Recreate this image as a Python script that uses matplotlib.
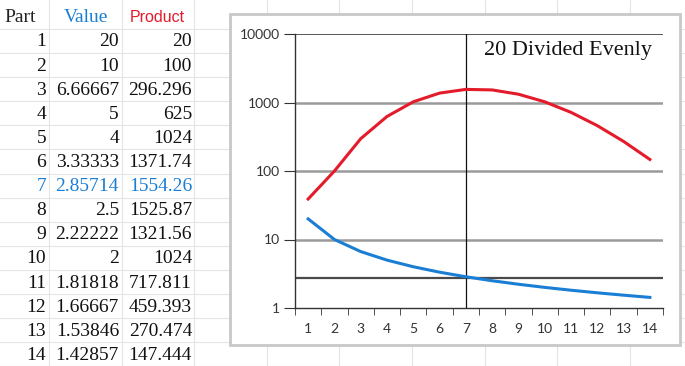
import numpy as np
import matplotlib.pyplot as plt
from matplotlib.patches import Rectangle
from matplotlib.ticker import FixedLocator, NullLocator

# table values (as shown in the spreadsheet)
parts = list(range(1, 15))
value_txt = ["20", "10", "6.66667", "5", "4", "3.33333", "2.85714", "2.5",
             "2.22222", "2", "1.81818", "1.66667", "1.53846", "1.42857"]
product_txt = ["20", "100", "296.296", "625", "1024", "1371.74", "1554.26",
               "1525.87", "1321.56", "1024", "717.811", "459.393", "270.474",
               "147.444"]

# series as drawn in the chart
chart_value = [20, 10, 6.66667, 5, 4, 3.33333, 2.85714, 2.5, 2.22222, 2,
               1.81818, 1.66667, 1.53846, 1.42857]
chart_product = [39, 100, 296.296, 625, 1024, 1371.74, 1554.26, 1525.87,
                 1321.56, 1024, 717.811, 459.393, 270.474, 147.444]
y_ticks = [1, 10, 100, 1000, 10000]
ref_x = 7
ref_y = np.e

RED = "#e31b2b"
BLUE = "#1a7fd4"
W, H = 685, 366

fig = plt.figure(figsize=(W / 100, H / 100), dpi=100)

def fx(px):
    return px / W

def fy(py):
    return 1 - py / H

# spreadsheet grid in the background
for x in [49, 122, 194, 267, 339, 412, 485, 557, 630]:
    fig.add_artist(plt.Line2D([fx(x), fx(x)], [0, 1], color="#e4e4e4", lw=0.8, zorder=0.1))
for i in range(16):
    y = 29 + 24.1 * i
    fig.add_artist(plt.Line2D([0, 1], [fy(y), fy(y)], color="#e4e4e4", lw=0.8, zorder=0.1))

# table text
serif = "Liberation Serif"
fs = 14
fig.text(fx(4), fy(17), "Part", family=serif, fontsize=fs, color="#222222", va="center")
fig.text(fx(64), fy(17), "Value", family=serif, fontsize=fs, color=BLUE, va="center")
fig.text(fx(130), fy(17), "Product", family="Liberation Sans", fontsize=11.5,
         color=RED, va="center")
for i, p in enumerate(parts):
    y = fy(42 + 24.1 * i)
    c = BLUE if p == 7 else "#111111"
    fig.text(fx(46), y, str(p), family=serif, fontsize=fs, color=c, ha="right", va="center")
    fig.text(fx(119), y, value_txt[i], family=serif, fontsize=fs, color=c, ha="right", va="center")
    fig.text(fx(192), y, product_txt[i], family=serif, fontsize=fs, color=c, ha="right", va="center")

# chart box
fig.add_artist(Rectangle((fx(230), fy(345)), fx(680) - fx(230), fy(14) - fy(345),
                         facecolor="white", edgecolor="#c8c8c8", lw=2.0, zorder=0.5))

ax = fig.add_axes([fx(295), fy(308), fx(663) - fx(295), fy(34) - fy(308)], zorder=2)
ax.set_facecolor("none")
ax.set_yscale("log")
ax.set_ylim(1, 10000)
ax.set_xlim(0.5, 14.5)

for t in [10, 100, 1000]:
    ax.axhline(t, color="#9a9a9a", lw=1.8, zorder=1)
ax.axhline(10000, color="#3a3a3a", lw=1.2, zorder=1)
ax.axhline(ref_y, color="#4a4a4a", lw=1.6, zorder=1)
ax.axvline(ref_x, color="#111111", lw=0.9, zorder=1)

ax.plot(parts, chart_product, color=RED, lw=2.2, zorder=3)
ax.plot(parts, chart_value, color=BLUE, lw=2.2, zorder=3)

for s in ["top", "right"]:
    ax.spines[s].set_visible(False)
for s in ["left", "bottom"]:
    ax.spines[s].set_color("#333333")
    ax.spines[s].set_linewidth(1.0)

ax.yaxis.set_major_locator(FixedLocator(y_ticks))
ax.yaxis.set_minor_locator(NullLocator())
ax.set_yticklabels([str(t) for t in y_ticks])
ax.set_xticks(parts)
ax.set_xticklabels([str(p) for p in parts])
ax.set_xticks(np.arange(0.5, 15, 1), minor=True)
ax.tick_params(axis="x", which="major", length=0, pad=11)
ax.tick_params(axis="x", which="minor", length=5, color="#333333")
ax.tick_params(axis="y", length=8, color="#333333", pad=3)
for lab in ax.get_xticklabels() + ax.get_yticklabels():
    lab.set_family("Lato")
    lab.set_fontsize(10)
    lab.set_color("#333333")

ax.text(0.97, 0.94, "20 Divided Evenly", transform=ax.transAxes, family=serif,
        fontsize=16, ha="right", va="center", color="#111111")

fig.savefig("out.png", dpi=100)
